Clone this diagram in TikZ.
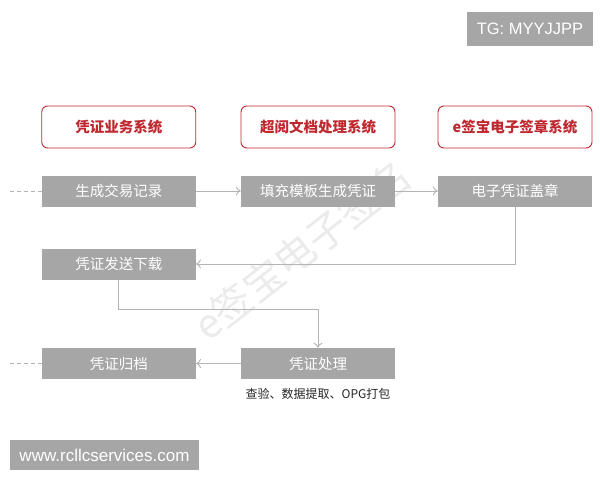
\documentclass[tikz,border=0pt]{standalone}
\usepackage{fontspec}
\setmainfont{Noto Sans CJK SC}
\newfontfamily\latinfont{Liberation Sans}
\usetikzlibrary{arrows.meta}
\definecolor{boxgray}{HTML}{A6A6A6}
\definecolor{hdrred}{HTML}{C0282F}
\definecolor{linegray}{HTML}{B4B4B4}
\begin{document}
\begin{tikzpicture}[x=1pt,y=-1pt,
  hdr/.style={draw=hdrred,line width=0.9pt,rounded corners=6pt,fill=white,minimum width=154pt,minimum height=42pt,inner sep=0pt,text=hdrred,font=\fontsize{14.5}{16}\selectfont\bfseries},
  stepbox/.style={fill=boxgray,minimum width=154pt,minimum height=31pt,inner sep=0pt,text=white,font=\fontsize{14.5}{16}\selectfont},
  conn/.style={draw=linegray,line width=0.9pt,-{To[length=5pt,width=9pt]}},
  dashline/.style={draw=linegray,line width=0.8pt,dash pattern=on 4pt off 3pt},
  tag/.style={fill=boxgray,inner sep=0pt,text=white,font=\latinfont}
]
\useasboundingbox (0,0) rectangle (600,480);
\fill[white] (0,0) rectangle (600,480);
% watermark
\node[rotate=38,text=black!8,font=\fontsize{40}{44}\selectfont] (wm) at (302,250) {e签宝电子签名};
% tags
\node[tag,minimum width=126pt,minimum height=34.5pt,font=\latinfont\fontsize{16.5}{18}\selectfont] (tg) at (530,29) {TG: MYYJJPP};
\node[tag,minimum width=189pt,minimum height=30pt,font=\latinfont\fontsize{17}{19}\selectfont] (www) at (104.5,455) {www.rcllcservices.com};
% headers
\node[hdr] (h1) at (118.75,127) {凭证业务系统};
\node[hdr] (h2) at (318,127) {超阅文档处理系统};
\node[hdr] (h3) at (515,127) {e签宝电子签章系统};
% row 1
\node[stepbox] (a1) at (118.75,191) {生成交易记录};
\node[stepbox] (a2) at (318,191) {填充模板生成凭证};
\node[stepbox] (a3) at (515,191) {电子凭证盖章};
% row 2
\node[stepbox] (b1) at (118.75,264) {凭证发送下载};
% row 3
\node[stepbox] (c1) at (118.75,363.5) {凭证归档};
\node[stepbox] (c2) at (318,363.5) {凭证处理};
\node[font=\fontsize{12}{14}\selectfont,text=black!85,anchor=north] (cap) at (318,385) {查验、数据提取、OPG打包};
% dashed leads
\coordinate (d1) at (10,191);
\coordinate (d2) at (10,373);
\draw[dashline] (d1) -- (a1.west);
\draw[dashline] (d2 |- c1) -- (c1.west);
% connectors
\draw[conn] (a1) -- (a2);
\draw[conn] (a2) -- (a3);
\draw[conn] (a3.south) |- (b1.east);
\draw[conn] (b1.south) -- ++(0,30) -| (c2.north);
\draw[conn] (c2) -- (c1);
\end{tikzpicture}
\end{document}
